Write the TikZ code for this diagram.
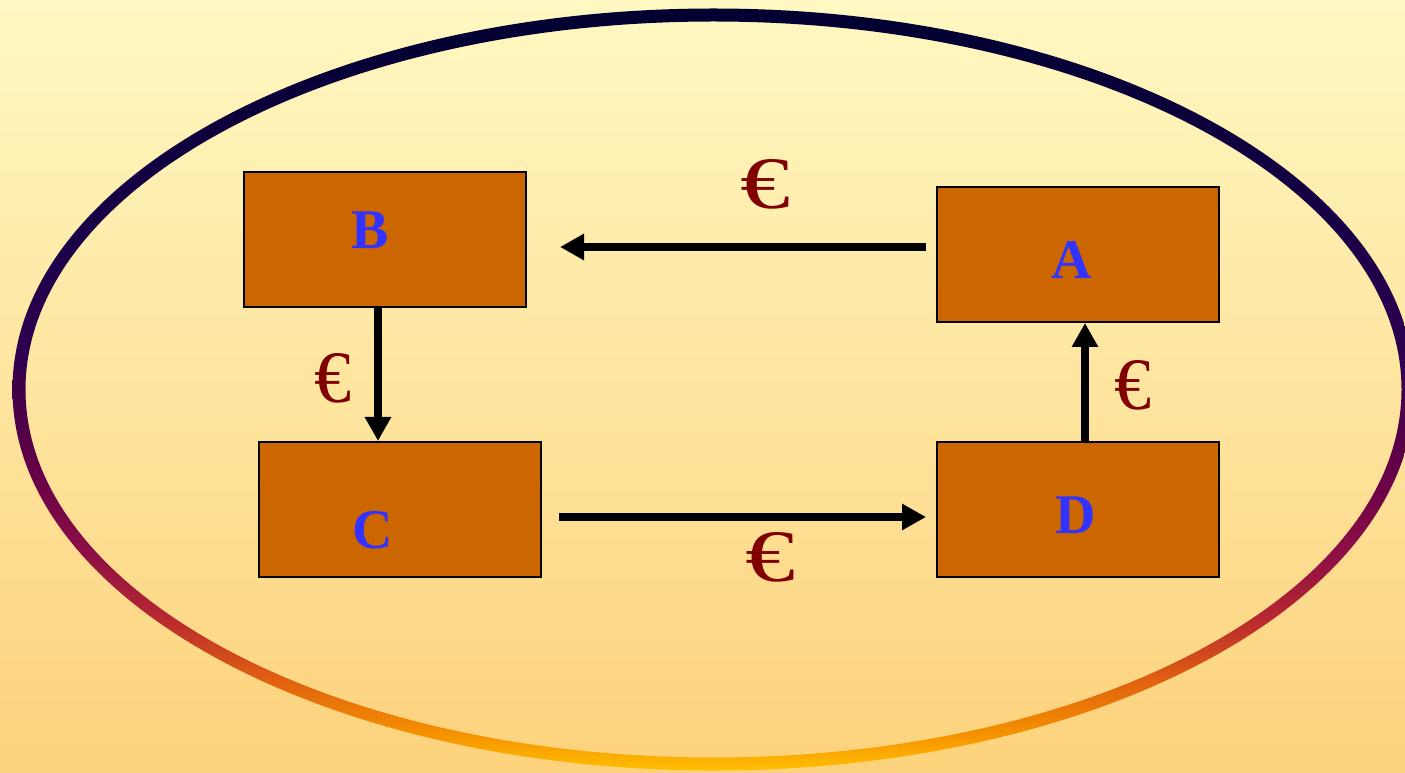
\documentclass[tikz,border=0pt]{standalone}
\usepackage{fontspec}
\setmainfont{Liberation Serif}
\usetikzlibrary{arrows.meta,positioning,calc}
\definecolor{CycleBgTop}{HTML}{FFF8C2}
\definecolor{CycleBgBottom}{HTML}{FDD27C}
\definecolor{CycleBox}{HTML}{CC6600}
\definecolor{CycleLetter}{HTML}{3333FF}
\definecolor{CycleEuro}{HTML}{800000}
\definecolor{RingGold}{HTML}{FFC000}
\definecolor{RingAmber}{HTML}{F59000}
\definecolor{RingOrange}{HTML}{E06010}
\definecolor{RingRed}{HTML}{B82830}
\definecolor{RingCrimson}{HTML}{901045}
\definecolor{RingPlum}{HTML}{620048}
\definecolor{RingGrape}{HTML}{3A0048}
\definecolor{RingPurple}{HTML}{300050}
\definecolor{RingIndigo}{HTML}{1A0048}
\definecolor{RingNavy}{HTML}{000030}
% the path box covers 25bp..75bp of the shading
\pgfdeclareverticalshading{ringshade}{100bp}{%
  color(0bp)=(RingGold); color(25bp)=(RingGold); color(27.5bp)=(RingAmber);
  color(31bp)=(RingOrange); color(35bp)=(RingRed); color(39bp)=(RingCrimson);
  color(45bp)=(RingPlum); color(51bp)=(RingGrape); color(51.5bp)=(RingPurple);
  color(60bp)=(RingIndigo); color(75bp)=(RingNavy); color(100bp)=(RingNavy)}
\tikzset{
  money/.style={-{Triangle[length=24pt,width=25pt]}, line width=7.5pt, draw=black},
  agent/.style={draw=black, line width=2pt, fill=CycleBox,
                minimum width=282pt, minimum height=135pt, inner sep=0pt},
  letter/.style={text=CycleLetter, font=\fontsize{56}{60}\selectfont\bfseries, inner sep=0pt},
  euro/.style={text=CycleEuro, font=\fontsize{74}{80}\selectfont, inner sep=0pt},
}

\begin{document}
\begin{tikzpicture}[x=1pt,y=1pt]
  \useasboundingbox (0,0) rectangle (1405,772);
  \clip (0,0) rectangle (1405,772);
  \shade[top color=CycleBgTop, bottom color=CycleBgBottom] (0,0) rectangle (1405,772);
  % shaded ring
  \shade[shading=ringshade, even odd rule]
    (713.5,382.5) ellipse [x radius=701, y radius=381]
    (713.5,382.5) ellipse [x radius=688, y radius=368];
  % boxes
  \node[agent] (B) at (385,532.5) {};
  \node[agent] (A) at (1078,517.5) {};
  \node[agent] (C) at (400,262.5) {};
  \node[agent] (D) at (1078,262.5) {};
  \node[letter] (labelB) at ($(B)+(-15,9.5)$) {B};
  \node[letter] (labelA) at ($(A)+(-6,-5.5)$) {A};
  \node[letter] (labelC) at ($(C)+(-27,-20.5)$) {C};
  \node[letter] (labelD) at ($(D)+(-2,-5.5)$) {D};
  % payments
  \draw[money] ($(A.west)+(-10,7.5)$) -- ($(B.east)+(33,-7.5)$);
  \draw[money] ($(B.south)+(-7,0)$) -- ($(C.north)+(-22,0)$);
  \draw[money] ($(C.east)+(17,-7.5)$) -- ($(D.west)+(-10,-7.5)$);
  \draw[money] ($(D.north)+(7,0)$) -- ($(A.south)+(7,0)$);
  \node[euro] (euroAB) at (765,588) {\scalebox{1.35}[1]{€}};
  \node[euro] (euroBC) at (333,394) {€};
  \node[euro] (euroCD) at (770,215) {\scalebox{1.35}[1]{€}};
  \node[euro] (euroDA) at (1133,387) {€};
\end{tikzpicture}
\end{document}
